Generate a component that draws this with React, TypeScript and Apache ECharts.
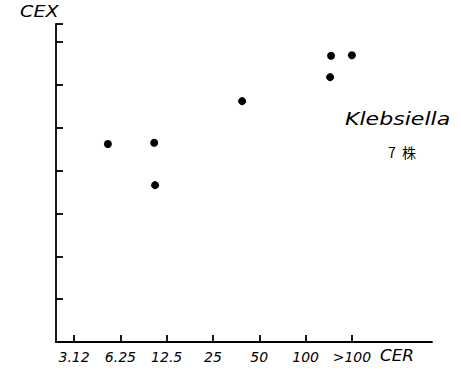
import React, { useEffect, useRef } from "react";
import * as echarts from "echarts";

const xTickLabels = ["3.12", "6.25", "12.5", "25", "50", "100", ">100"];
const yTickLabels = ["3.12", "6.25", "12.5", "25", "50", "100", ">100"];
// positions in tick-index units (0 = 3.12 ... 6 = >100)
const cerValues = [0.73, 1.73, 1.75, 3.63, 5.55, 6.0, 5.53];
const cexValues = [4.06, 4.09, 3.1, 5.06, 6.12, 6.13, 5.62];

// x axis is a fine category scale in hundredths of a tick step
const X_MIN_H = -39;
const X_MAX_H = 773;
const Y_MIN = -0.56;
const Y_MAX = 6.86;

const FONT = "DejaVu Sans";

export default function App() {
  const ref = useRef<HTMLDivElement>(null);
  useEffect(() => {
    if (!ref.current) return;
    const chart = echarts.init(ref.current, undefined, { renderer: "svg" });
    const xCats: string[] = [];
    for (let k = X_MIN_H; k <= X_MAX_H; k++) xCats.push(String(k));
    const isMainTick = (value: string) => {
      const n = Number(value);
      return n % 100 === 0 && n >= 0 && n <= 600;
    };
    const data = cerValues.map((x, i) => [String(Math.round(x * 100)), cexValues[i]]);
    chart.setOption({
      animation: false,
      backgroundColor: "#ffffff",
      grid: { left: 56, top: 24, right: 29, bottom: 30, containLabel: false },
      xAxis: {
        type: "category",
        data: xCats,
        boundaryGap: false,
        splitLine: { show: false },
        axisLine: { show: true, onZero: false, lineStyle: { color: "#000", width: 1.8 } },
        axisTick: {
          show: true,
          inside: true,
          length: 7,
          interval: (_i: number, value: string) => isMainTick(value),
          lineStyle: { color: "#000", width: 1.8 },
        },
        axisLabel: {
          interval: (_i: number, value: string) => isMainTick(value),
          formatter: (value: string) => xTickLabels[Math.round(Number(value) / 100)] ?? "",
          color: "#000",
          fontSize: 14,
          fontStyle: "italic",
          fontFamily: FONT,
          margin: 8,
        },
      },
      yAxis: {
        type: "value",
        min: Y_MIN,
        max: Y_MAX,
        interval: 1,
        splitLine: { show: false },
        axisLine: { show: true, onZero: false, lineStyle: { color: "#000", width: 1.8 } },
        axisTick: { show: true, inside: true, length: 7, lineStyle: { color: "#000", width: 1.8 } },
        axisLabel: {
          showMinLabel: true,
          showMaxLabel: true,
          formatter: (v: number) => {
            const r = Math.round(v);
            return Math.abs(v - r) < 1e-6 ? yTickLabels[r] ?? "" : "";
          },
          color: "#000",
          fontSize: 14,
          fontStyle: "italic",
          fontFamily: FONT,
          margin: 3,
        },
      },
      series: [
        {
          type: "scatter",
          data,
          symbol: "circle",
          symbolSize: 8,
          itemStyle: { color: "#000", opacity: 1 },
        },
      ],
      graphic: [
        {
          type: "text",
          x: 20,
          y: 4,
          scaleX: 1.2,
          style: { text: "CEX", fontSize: 16, fontStyle: "italic", fontFamily: FONT, fill: "#000" },
        },
        {
          type: "text",
          x: 380,
          y: 348,
          scaleX: 1.05,
          style: { text: "CER", fontSize: 16, fontStyle: "italic", fontFamily: FONT, fill: "#000" },
        },
        {
          type: "text",
          x: 345,
          y: 111,
          scaleX: 1.3,
          style: { text: "Klebsiella", fontSize: 17, fontStyle: "italic", fontFamily: FONT, fill: "#000" },
        },
        {
          type: "text",
          x: 388,
          y: 145,
          style: { text: "7  株", fontSize: 14, fontFamily: "Noto Sans CJK JP", fill: "#000" },
        },
      ],
    });
    return () => chart.dispose();
  }, []);
  return <div ref={ref} style={{ width: 461, height: 372, position: "absolute", left: 0, top: 0 }} />;
}
